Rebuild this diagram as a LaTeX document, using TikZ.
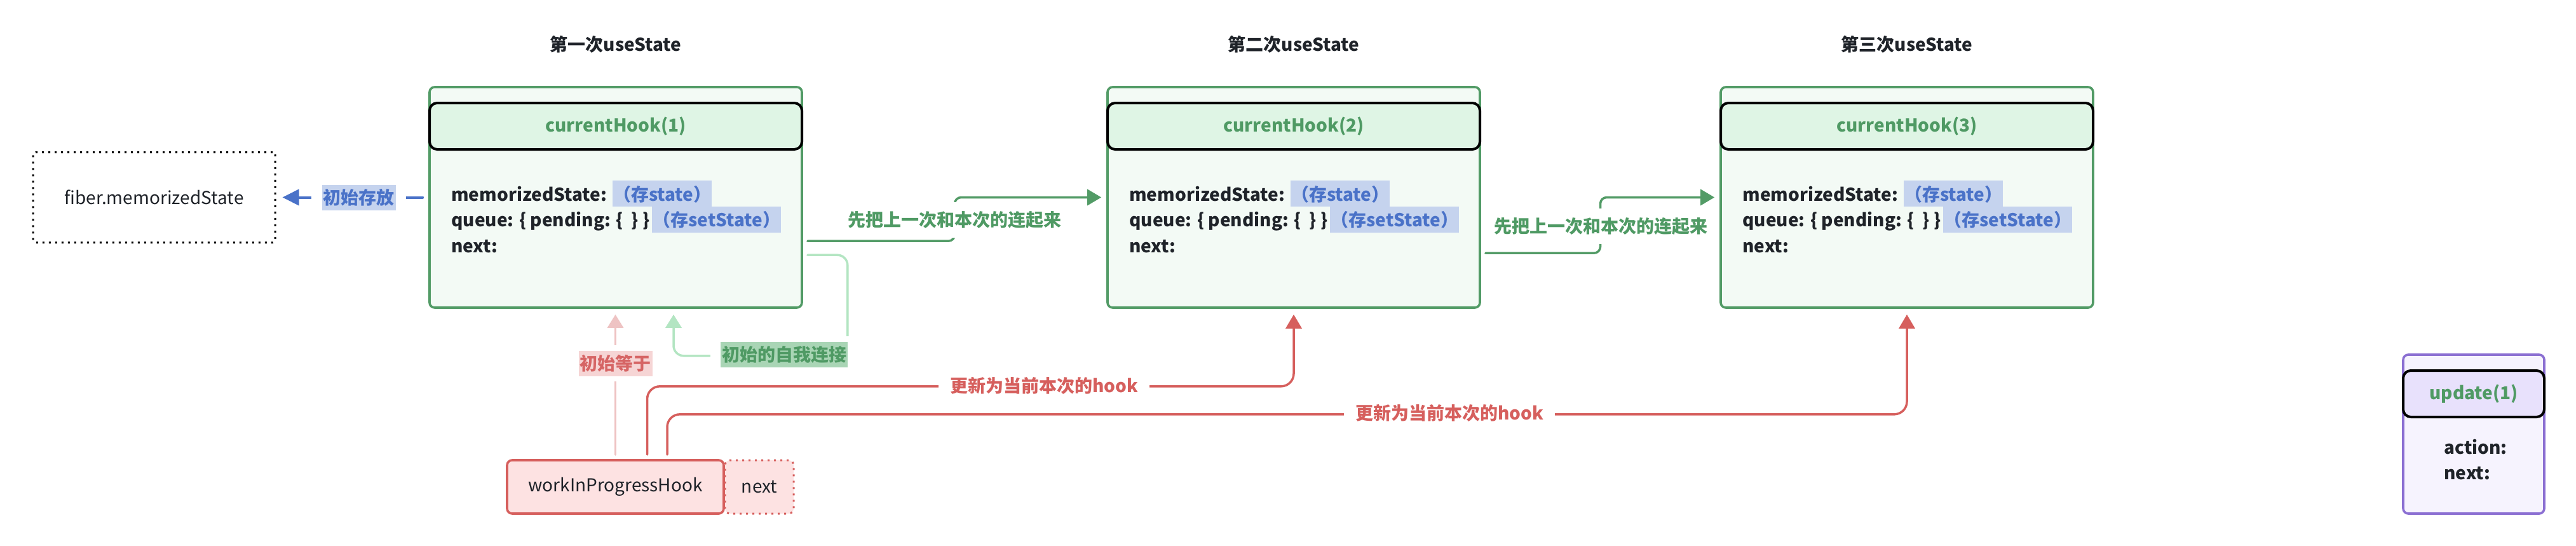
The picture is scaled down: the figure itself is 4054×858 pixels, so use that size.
\documentclass[tikz,border=0pt]{standalone}
\usepackage{fontspec}
\setmainfont{Noto Sans CJK SC}
\usetikzlibrary{arrows.meta,calc,fit}
\definecolor{gline}{HTML}{529B66}
\definecolor{gfill}{HTML}{F3FAF5}
\definecolor{ghead}{HTML}{DFF5E5}
\definecolor{gtext}{HTML}{4F9A64}
\definecolor{btext}{HTML}{4A72C8}
\definecolor{bbg}{HTML}{C5D3EE}
\definecolor{pline}{HTML}{EEC3C3}
\definecolor{pbg}{HTML}{F6D5D5}
\definecolor{ptext}{HTML}{D66565}
\definecolor{lgline}{HTML}{B3E5C2}
\definecolor{lgbg}{HTML}{A9D5B5}
\definecolor{redc}{HTML}{D65F5D}
\definecolor{wipfill}{HTML}{FDE2E2}
\definecolor{purp}{HTML}{8B6FD2}
\definecolor{pfill}{HTML}{F6F3FE}
\definecolor{phead}{HTML}{E8E1FC}
\definecolor{dark}{HTML}{1F2329}
\pgfdeclarelayer{lines}
\pgfdeclarelayer{halo}
\pgfsetlayers{lines,halo,main}
\begin{document}
\fontsize{14pt}{20pt}\selectfont
\begin{tikzpicture}[x=0.5pt,y=-0.5pt,
  every node/.style={text=dark},
  ttl/.style={font=\bfseries,inner sep=0pt},
  hookbox/.style={draw=gline,fill=gfill,line width=1.8pt,rounded corners=4pt,minimum width=293pt,minimum height=173.5pt,inner sep=0pt},
  hookhead/.style={draw=black,fill=ghead,line width=2pt,rounded corners=6pt,minimum width=293pt,minimum height=36.5pt,inner sep=0pt,text=gtext,font=\bfseries},
  txt/.style={anchor=base west,inner sep=0pt,font=\bfseries},
  hl/.style={anchor=base west,fill=bbg,text=btext,font=\bfseries,inner xsep=0.5pt,inner ysep=0pt,text height=16pt,text depth=4.5pt},
  lbl/.style={font=\bfseries,inner xsep=1pt,inner ysep=0pt,minimum height=20pt},
  fiberbox/.style={draw=black,line width=1.5pt,dash pattern=on 1.5pt off 3.5pt,rounded corners=2pt,minimum width=190.5pt,minimum height=71pt,inner sep=0pt},
  wipbox/.style={draw=redc,fill=wipfill,line width=1.8pt,rounded corners=4pt,minimum width=170.5pt,minimum height=42pt,inner sep=0pt},
  nextbox/.style={draw=redc,fill=wipfill,line width=1.5pt,dash pattern=on 1.5pt off 3.5pt,rounded corners=4pt,minimum width=54pt,minimum height=42pt,inner sep=0pt},
  upbox/.style={draw=purp,fill=pfill,line width=1.8pt,rounded corners=4pt,minimum width=111pt,minimum height=125pt,inner sep=0pt},
  uphead/.style={draw=black,fill=phead,line width=2pt,rounded corners=6pt,minimum width=111pt,minimum height=36.5pt,inner sep=0pt,text=gtext,font=\bfseries},
  conn/.style={line width=1.75pt,line cap=round,shorten <=3.5pt,shorten >=4pt},
  garr/.style={conn,draw=gline,rounded corners=5pt,-{Triangle[length=11pt,width=12.5pt]}},
  bluearr/.style={conn,draw=btext,line width=2pt,shorten <=4.5pt,shorten >=5pt,-{Triangle[length=13pt,width=12.5pt]}},
  lgarr/.style={conn,draw=lgline,rounded corners=8pt,shorten >=4.5pt,-{Triangle[length=10.5pt,width=12.5pt]}},
  pinkarr/.style={conn,draw=pline,shorten >=4.5pt,-{Triangle[length=10.5pt,width=12.5pt]}},
  redarr/.style={conn,draw=redc,rounded corners=10pt,shorten >=4.5pt,-{Triangle[length=11pt,width=12.5pt]}}
]
\useasboundingbox (0,0) rectangle (4054,858);

% hook boxes
\foreach \i/\cx/\ti in {1/969/第一次,2/2036/第二次,3/3001/第三次}{
  \node[ttl] (t\i) at (\cx,70) {\ti useState};
  \node[hookbox] (box\i) at (\cx,310.5) {};
  \node[hookhead] (hd\i) at (\cx,198.5) {currentHook(\i)};
  \node[txt] (ms\i) at (\cx-259,316) {memorizedState:};
  \node[hl] (hs\i) at ([xshift=4pt]ms\i.base east) {（存state）};
  \node[txt] (qu\i) at (\cx-259,356.5) {queue: \{ pending: \{~~\} \}};
  \node[hl] (hq\i) at ([xshift=1.5pt]qu\i.base east) {（存setState）};
  \node[txt] (nx\i) at (\cx-259,397) {next:};
}

% other boxes
\node[fiberbox] (fiber) at (242.5,310.5) {fiber.memorizedState};
\node[wipbox] (wip) at (968.5,766) {workInProgressHook};
\node[nextbox] (wnext) at (1195,766) {next};
\node[upbox] (up) at (3893,683) {};
\node[uphead] (uph) at (3893,619.5) {update(1)};
\node[txt] (act) at (3846,714) {action:};
\node[txt] (unx) at (3846,754) {next:};

% labels
\node[lbl,fill=bbg,text=btext] (lblue) at (564.5,310.5) {初始存放};
\node[lbl,fill=pbg,text=ptext] (lpink) at (968.5,571.5) {初始等于};
\node[lbl,fill=lgbg,text=gtext] (llg) at (1234,557.5) {初始的自我连接};
\node[lbl,text=gtext] (lg1) at (1502,346) {先把上一次和本次的连起来};
\node[lbl,text=gtext] (lg2) at (2519,356) {先把上一次和本次的连起来};
\node[lbl,text=redc] (lr1) at (1643,607) {更新为当前本次的hook};
\node[lbl,text=redc] (lr2) at (2281,650) {更新为当前本次的hook};

\begin{pgfonlayer}{halo}
\foreach \l in {lblue,lpink,llg,lg1,lg2,lr1,lr2}
  \node[fill=white,inner xsep=8pt,inner ysep=4pt,fit=(\l)] (h\l) {};
\end{pgfonlayer}

\begin{pgfonlayer}{lines}
\draw[bluearr] (box1.west) -- (fiber.east);
\draw[garr] ([yshift=-122pt]box1.north east) -| ($(box1.east)!0.5!(box2.west)$) -- (box2.west);
\draw[garr] ([yshift=-131.5pt]box2.north east) -| ($(box2.east)!0.5!(box3.west)$) -- (box3.west);
\draw[lgarr] ([yshift=-133pt]box1.north east) -| ([xshift=35pt,yshift=-37pt]box1.south east) -| ([xshift=45.5pt]box1.south);
\draw[pinkarr] (wip.north) -- (wip.north |- box1.south);
\draw[redarr] ([xshift=25pt]wip.north) |- ([yshift=-61pt]box2.south) -- (box2.south);
\draw[redarr] ([xshift=40.75pt]wip.north) |- ([yshift=-83pt]box3.south) -- (box3.south);
\end{pgfonlayer}
\end{tikzpicture}
\end{document}
